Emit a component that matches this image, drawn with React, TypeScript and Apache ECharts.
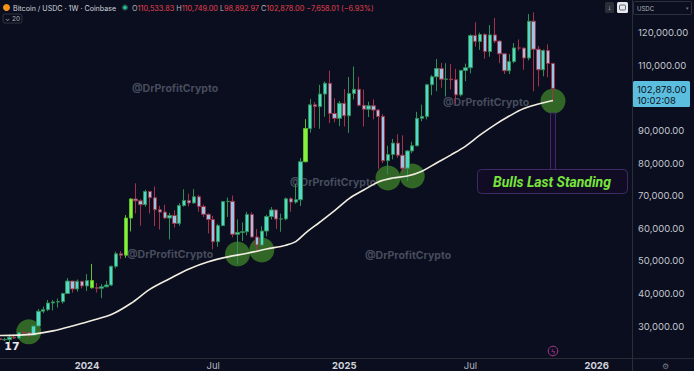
import React, { useEffect, useRef } from "react";
import * as echarts from "echarts";

// ---- DATA (prices in thousands of USDC) ----
const weekStarts = [
  "2023-08-28","2023-09-04","2023-09-11","2023-09-18","2023-09-25","2023-10-02","2023-10-09","2023-10-16","2023-10-23","2023-10-30","2023-11-06","2023-11-13","2023-11-20","2023-11-27","2023-12-04","2023-12-11","2023-12-18","2023-12-25",
  "2024-01-01","2024-01-08","2024-01-15","2024-01-22","2024-01-29","2024-02-05","2024-02-12","2024-02-19","2024-02-26","2024-03-04","2024-03-11","2024-03-18","2024-03-25","2024-04-01","2024-04-08","2024-04-15","2024-04-22","2024-04-29","2024-05-06","2024-05-13","2024-05-20","2024-05-27","2024-06-03","2024-06-10","2024-06-17","2024-06-24","2024-07-01","2024-07-08","2024-07-15","2024-07-22","2024-07-29","2024-08-05","2024-08-12","2024-08-19","2024-08-26","2024-09-02","2024-09-09","2024-09-16","2024-09-23","2024-09-30","2024-10-07","2024-10-14","2024-10-21","2024-10-28","2024-11-04","2024-11-11","2024-11-18","2024-11-25","2024-12-02","2024-12-09","2024-12-16","2024-12-23","2024-12-30",
  "2025-01-06","2025-01-13","2025-01-20","2025-01-27","2025-02-03","2025-02-10","2025-02-17","2025-02-24","2025-03-03","2025-03-10","2025-03-17","2025-03-24","2025-03-31","2025-04-07","2025-04-14","2025-04-21","2025-04-28","2025-05-05","2025-05-12","2025-05-19","2025-05-26","2025-06-02","2025-06-09","2025-06-16","2025-06-23","2025-06-30","2025-07-07","2025-07-14","2025-07-21","2025-07-28","2025-08-04","2025-08-11","2025-08-18","2025-08-25","2025-09-01","2025-09-08","2025-09-15","2025-09-22","2025-09-29","2025-10-06","2025-10-13","2025-10-20","2025-10-27","2025-11-03"
];
const opens = [
  26.10,25.80,25.83,26.53,26.30,27.97,27.94,27.15,29.99,34.53,35.01,37.06,37.38,37.45,39.97,43.78,41.36,43.72,
  42.28,43.94,41.73,41.58,42.03,42.58,48.30,52.14,51.73,63.11,68.96,68.39,67.23,71.29,69.36,65.66,64.94,63.12,63.89,61.48,66.95,68.52,67.75,69.65,66.64,64.26,62.67,55.86,60.80,68.16,68.25,58.14,58.71,58.93,64.22,57.30,54.84,59.12,63.58,65.60,62.82,62.85,69.03,68.01,68.73,80.40,90.55,97.85,97.30,101.15,104.45,95.20,93.70,
  98.30,94.50,101.30,102.60,97.70,96.50,97.55,96.25,94.30,80.70,82.60,86.10,82.40,78.40,83.70,85.30,93.70,94.30,104.00,106.45,109.00,105.70,105.75,105.55,100.90,108.40,109.20,119.10,117.30,119.40,114.20,119.30,117.40,113.50,108.30,111.10,115.30,115.25,112.20,123.50,114.90,108.60,114.50,110.53383
];
const highs = [
  28.14,26.40,27.48,27.48,28.05,28.58,27.99,30.38,35.20,35.98,37.98,37.95,38.42,40.22,44.70,43.80,44.27,43.80,
  45.92,49.05,43.19,42.84,43.88,48.54,52.82,52.98,64.00,69.20,73.78,68.92,71.77,71.34,72.80,66.87,67.23,64.73,65.50,67.70,71.95,70.60,71.98,70.20,67.25,64.53,63.80,61.35,68.37,69.40,70.00,62.70,61.80,65.05,64.90,59.80,60.60,64.13,66.50,65.60,64.48,69.40,69.50,73.62,81.50,93.45,99.60,98.70,104.00,105.00,108.35,99.90,99.00,
  102.70,106.40,109.60,106.45,102.50,98.80,99.50,96.50,95.00,85.30,87.40,88.80,88.50,84.00,86.50,95.70,97.90,104.30,107.00,111.90,110.70,110.60,110.40,108.90,108.50,110.50,119.50,123.20,120.00,119.80,122.30,124.50,117.60,113.60,113.40,116.80,117.90,115.40,125.70,126.20,115.90,114.80,116.40,110.749
];
const lows = [
  25.33,25.38,24.90,26.01,26.10,27.23,26.54,26.97,29.90,33.93,34.55,34.80,35.64,36.87,39.90,40.22,40.52,41.50,
  40.75,41.50,40.28,38.55,41.88,42.26,47.70,50.60,50.90,59.00,64.53,60.77,66.60,64.50,60.66,59.60,62.80,56.55,60.20,60.75,66.60,66.70,67.50,65.05,63.40,58.40,53.50,54.30,60.63,63.45,57.20,49.10,56.10,57.80,57.20,52.55,54.60,57.50,62.70,59.80,58.90,62.40,65.05,67.50,66.80,80.20,89.30,90.80,90.50,94.20,92.20,92.50,91.30,
  91.20,89.25,99.50,97.40,91.20,94.10,93.40,78.20,80.00,76.60,81.10,81.60,77.10,74.40,83.00,85.10,92.80,93.40,100.80,102.00,103.10,100.40,102.60,98.20,100.40,105.10,107.50,115.70,114.70,112.00,112.60,116.80,110.60,107.30,107.30,110.60,114.50,108.60,111.50,102.00,103.50,106.60,106.30,98.89297
];
const closes = [
  25.80,25.83,26.53,26.30,27.97,27.94,27.15,29.99,34.53,35.01,37.06,37.38,37.45,39.97,43.78,41.36,43.72,42.28,
  43.94,41.73,41.58,42.03,42.58,48.30,52.14,51.73,63.11,68.96,68.39,67.23,71.29,69.36,65.66,64.94,63.12,63.89,61.48,66.95,68.52,67.75,69.65,66.64,64.26,62.67,55.86,60.80,68.16,68.25,58.14,58.71,58.93,64.22,57.30,54.84,59.12,63.58,65.60,62.82,62.85,69.03,68.01,68.73,80.40,90.55,97.85,97.30,101.15,104.45,95.20,93.70,98.30,
  94.50,101.30,102.60,97.70,96.50,97.55,96.25,94.30,80.70,82.60,86.10,82.40,78.40,83.70,85.30,93.70,94.30,104.00,106.45,109.00,105.70,105.75,105.55,100.90,108.40,109.20,119.10,117.30,119.40,114.20,119.30,117.40,113.50,108.30,111.10,115.30,115.25,112.20,123.50,114.90,108.60,114.50,110.53601,102.878
];
// candles painted lime on the reference
const limeWeeks = ["2024-01-08", "2024-02-26", "2024-03-04", "2024-11-11"];

// white moving-average line
const maDates = ["2023-08-28","2023-09-25","2023-10-16","2023-11-13","2023-12-11","2024-01-08","2024-02-05","2024-03-04","2024-04-01","2024-04-29","2024-05-27","2024-06-24","2024-07-22","2024-08-19","2024-09-16","2024-10-14","2024-10-28","2024-11-11","2024-12-02","2024-12-23","2025-01-13","2025-02-03","2025-02-24","2025-03-17","2025-04-07","2025-04-28","2025-05-19","2025-06-09","2025-06-30","2025-07-21","2025-08-11","2025-09-01","2025-09-22","2025-10-13","2025-11-03"];
const maValues = [27.1,27.2,27.5,28.5,30.0,31.7,33.5,36.9,41.3,44.5,47.5,49.7,51.2,52.3,53.6,54.8,55.9,58.5,61.9,65.4,69.1,71.7,74.2,75.4,76.0,77.5,80.0,82.5,85.2,88.6,91.7,94.4,96.7,98.1,99.2];

// green touch circles
const circleDates = ["2023-10-09", "2024-08-05", "2024-09-09", "2025-03-10", "2025-04-14", "2025-11-03"];
const circleValues = [28.2, 52.1, 53.3, 75.4, 76.0, 99.0];

// x-axis labels (first weekly bar of each period)
const xLabelDates = ["2024-01-01", "2024-07-01", "2025-01-06", "2025-07-07", "2026-01-05"];
const yMin = 20000;
const yMax = 130000;
const yStep = 10000;
const yHiddenTick = 100000; // covered by the last-price tag
const xStart = "2023-08-28T12:00:00Z";
const xEnd = "2026-02-24T22:00:00Z";
const annotationText = "Bulls Last Standing";
const watermark = "@DrProfitCrypto";
const countdown = "10:02:08";

const K = 1000;
const fmt2 = (v: number) =>
  v.toLocaleString("en-US", { minimumFractionDigits: 2, maximumFractionDigits: 2 });

export default function App() {
  const ref = useRef<HTMLDivElement>(null);

  useEffect(() => {
    if (!ref.current) return;
    const chart = echarts.init(ref.current, undefined, { renderer: "svg" });

    const n = closes.length;
    const candleData = weekStarts.map((d, i) => {
      const item: any = {
        value: [Date.parse(d), opens[i] * K, closes[i] * K, lows[i] * K, highs[i] * K],
      };
      if (limeWeeks.includes(d)) {
        item.itemStyle = {
          color: "#86f03c",
          color0: "#b4e845",
          borderColor: "#5fbf2c",
          borderColor0: "#8c2a3a",
        };
      }
      return item;
    });
    const maData = maDates.map((d, i) => [Date.parse(d), maValues[i] * K]);
    const circleData = circleDates.map((d, i) => [Date.parse(d), circleValues[i] * K]);

    const lastO = opens[n - 1] * K;
    const lastH = highs[n - 1] * K;
    const lastL = lows[n - 1] * K;
    const lastC = closes[n - 1] * K;
    const prevC = closes[n - 2] * K;
    const chg = lastC - prevC;
    const pct = (chg / prevC) * 100;
    const minus = "\u2212";

    const font = "Inter, Roboto, sans-serif";
    const bg = "#0a0e1f";
    const lineCol = "#2a2e39";

    const wm = (x: number, y: number) => ({
      type: "text",
      x,
      y,
      z: 0,
      style: {
        text: watermark,
        fill: "rgba(125,130,145,0.55)",
        fontSize: 10.5,
        fontWeight: "bold",
        fontFamily: font,
        align: "center",
        verticalAlign: "middle",
      },
    });

    chart.setOption({
      animation: false,
      backgroundColor: bg,
      grid: { left: 0, right: 62, top: 0, bottom: 12.4, outerBoundsMode: "none" },
      xAxis: {
        type: "value",
        min: Date.parse(xStart),
        max: Date.parse(xEnd),
        scale: true,
        axisLine: { show: true, lineStyle: { color: lineCol, width: 1 } },
        axisTick: { show: false },
        splitLine: { show: false },
        axisLabel: {
          customValues: xLabelDates.map((d) => Date.parse(d)),
          margin: 2,
          hideOverlap: false,
          showMinLabel: true,
          showMaxLabel: true,
          formatter: (v: number) => {
            const d = new Date(v);
            return d.getUTCMonth() === 0 ? "{y|" + d.getUTCFullYear() + "}" : "{m|Jul}";
          },
          rich: {
            y: { color: "#d1d4dc", fontSize: 9.5, fontWeight: "bold", fontFamily: font },
            m: { color: "#b2b5be", fontSize: 9.5, fontFamily: font },
          },
        },
      },
      yAxis: {
        type: "value",
        position: "right",
        min: yMin,
        max: yMax,
        interval: yStep,
        axisLine: { show: true, lineStyle: { color: lineCol, width: 1 } },
        axisTick: { show: false },
        splitLine: { show: false },
        axisLabel: {
          showMinLabel: false,
          showMaxLabel: false,
          margin: 6,
          color: "#c3c6ce",
          fontSize: 9.5,
          fontFamily: font,
          formatter: (v: number) => (v === yHiddenTick ? "" : fmt2(v)),
        },
      },
      series: [
        {
          type: "scatter",
          data: circleData,
          symbol: "circle",
          symbolSize: 25,
          z: 1,
          itemStyle: { color: "rgba(70,150,45,0.82)" },
          silent: true,
        },
        {
          type: "candlestick",
          data: candleData,
          barWidth: 3.8,
          z: 3,
          itemStyle: {
            color: "#55d8cc",
            color0: "#95c6e6",
            borderColor: "#2f8f55",
            borderColor0: "#a3324a",
            borderWidth: 1,
          },
        },
        {
          type: "line",
          data: maData,
          smooth: 0.35,
          showSymbol: false,
          z: 4,
          lineStyle: { color: "#f1ede0", width: 1.6 },
          silent: true,
        },
      ],
      graphic: [
        wm(175, 88),
        wm(333, 182),
        wm(170, 254),
        wm(408, 255),
        wm(486, 102),
        // header
        { type: "circle", shape: { cx: 6.5, cy: 7.5, r: 3.5 }, style: { fill: "#f7931a" }, z: 100 },
        {
          type: "text",
          x: 13,
          y: 8,
          z: 100,
          style: {
            text: "Bitcoin / USDC \u00b7 1W \u00b7 Coinbase",
            fill: "#d1d4dc",
            fontSize: 7.1,
            fontFamily: font,
            verticalAlign: "middle",
          },
        },
        { type: "circle", shape: { cx: 125, cy: 7.5, r: 3.2 }, style: { fill: "#1d4f47" }, z: 100 },
        { type: "circle", shape: { cx: 125, cy: 7.5, r: 1.8 }, style: { fill: "#2bbf9a" }, z: 100 },
        {
          type: "text",
          x: 132,
          y: 8,
          z: 100,
          style: {
            text:
              "{l|O}{v|" + fmt2(lastO) + "} {l|H}{v|" + fmt2(lastH) + "} {l|L}{v|" + fmt2(lastL) +
              "} {l|C}{v|" + fmt2(lastC) + "} {v|" + minus + fmt2(Math.abs(chg)) + " (" + minus +
              Math.abs(pct).toFixed(2) + "%)}",
            fontSize: 7.3,
            fontFamily: font,
            verticalAlign: "middle",
            rich: {
              l: { fill: "#b2b5be", fontSize: 7.3, fontFamily: font },
              v: { fill: "#e5404c", fontSize: 7.3, fontFamily: font },
            },
          },
        },
        {
          type: "rect",
          shape: { x: 3, y: 14, width: 19, height: 9, r: 2 },
          style: { fill: bg, stroke: "#3a3e4a", lineWidth: 0.8 },
          z: 100,
        },
        {
          type: "text",
          x: 12.5,
          y: 18.8,
          z: 101,
          style: {
            text: "\u2304 20",
            fill: "#b2b5be",
            fontSize: 6.5,
            fontFamily: font,
            align: "center",
            verticalAlign: "middle",
          },
        },
        // top-right controls
        {
          type: "rect",
          shape: { x: 605, y: 2, width: 9, height: 11, r: 1.5 },
          style: { fill: "#2a2e39" },
          z: 100,
        },
        {
          type: "text",
          x: 609.5,
          y: 7.5,
          z: 101,
          style: { text: "\u2193", fill: "#d1d4dc", fontSize: 7, align: "center", verticalAlign: "middle" },
        },
        {
          type: "rect",
          shape: { x: 617, y: 2, width: 11, height: 11, r: 1.5 },
          style: { fill: "#e6e8ee" },
          z: 100,
        },
        {
          type: "rect",
          shape: { x: 619.5, y: 5, width: 6, height: 5, r: 1 },
          style: { fill: "none", stroke: "#4a4e5a", lineWidth: 0.8 },
          z: 101,
        },
        {
          type: "rect",
          shape: { x: 633.5, y: 1.5, width: 58, height: 13, r: 1 },
          style: { fill: bg, stroke: "#363a45", lineWidth: 0.8 },
          z: 100,
        },
        {
          type: "text",
          x: 637,
          y: 8,
          z: 101,
          style: { text: "USDC", fill: "#b2b5be", fontSize: 6, fontFamily: font, verticalAlign: "middle" },
        },
        {
          type: "text",
          x: 687,
          y: 8,
          z: 101,
          style: { text: "\u25be", fill: "#787b86", fontSize: 5, align: "center", verticalAlign: "middle" },
        },
        // last price label
        {
          type: "rect",
          shape: { x: 633, y: 81, width: 57, height: 26, r: 1.5 },
          style: { fill: "#5cbedf" },
          z: 100,
        },
        {
          type: "text",
          x: 637,
          y: 89,
          z: 101,
          style: { text: fmt2(lastC), fill: "#0c1322", fontSize: 9.5, fontFamily: font, verticalAlign: "middle" },
        },
        {
          type: "text",
          x: 637,
          y: 100,
          z: 101,
          style: { text: countdown, fill: "#0c1322", fontSize: 9.5, fontFamily: font, verticalAlign: "middle" },
        },
        // separators in the corner
        {
          type: "line",
          shape: { x1: 632.5, y1: 358, x2: 632.5, y2: 371 },
          style: { stroke: lineCol, lineWidth: 1 },
          z: 100,
        },
        {
          type: "line",
          shape: { x1: 632, y1: 358.6, x2: 694, y2: 358.6 },
          style: { stroke: lineCol, lineWidth: 1 },
          z: 100,
        },
        {
          type: "text",
          x: 665,
          y: 366,
          z: 100,
          style: { text: "\u2699", fill: "#787b86", fontSize: 8, align: "center", verticalAlign: "middle" },
        },
        // TradingView logo
        {
          type: "text",
          x: 12,
          y: 346,
          z: 100,
          style: {
            text: "17",
            fill: "#e8e8ec",
            fontSize: 11,
            fontWeight: "bold",
            fontFamily: "DejaVu Sans, sans-serif",
            align: "center",
            verticalAlign: "middle",
          },
        },
        // lightning icon
        {
          type: "circle",
          shape: { cx: 553, cy: 351, r: 4.8 },
          style: { fill: "none", stroke: "#b1398f", lineWidth: 1 },
          z: 100,
        },
        {
          type: "text",
          x: 553,
          y: 351.5,
          z: 101,
          style: { text: "\u03df", fill: "#b1398f", fontSize: 7, align: "center", verticalAlign: "middle" },
        },
        // annotation callout
        {
          type: "rect",
          shape: { x: 550.5, y: 113, width: 5, height: 58 },
          style: { fill: "#140d2a", stroke: "#3f2a66", lineWidth: 1 },
          z: 99,
        },
        {
          type: "rect",
          shape: { x: 477.5, y: 169.5, width: 150, height: 24, r: 4 },
          style: { fill: "#110c24", stroke: "#3f2a66", lineWidth: 1 },
          z: 100,
        },
        {
          type: "text",
          x: 552,
          y: 181.5,
          z: 101,
          style: {
            text: annotationText,
            fill: "#79e43c",
            fontSize: 14,
            fontWeight: "bold",
            fontStyle: "italic",
            fontFamily: "Roboto, Inter, sans-serif",
            align: "center",
            verticalAlign: "middle",
          },
        },
      ],
    });

    return () => chart.dispose();
  }, []);

  return (
    <div
      ref={ref}
      style={{ position: "absolute", left: 0, top: 0, width: 694, height: 371 }}
    />
  );
}
